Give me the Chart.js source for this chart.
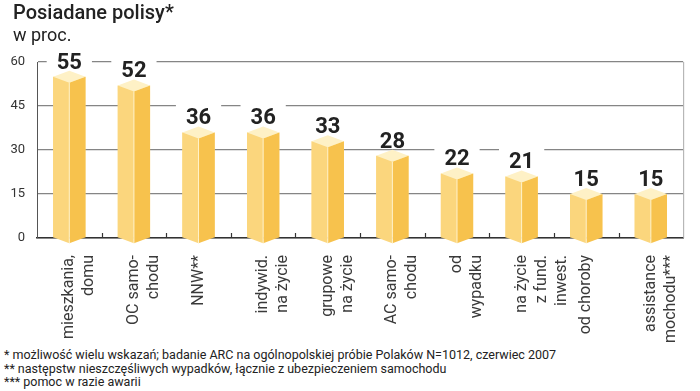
<!DOCTYPE html>
<html>
<head>
<meta charset="utf-8">
<script src="https://cdn.jsdelivr.net/npm/chart.js@4"></script>
<style>
  html, body { margin: 0; padding: 0; background: #fff; }
  #wrap { position: relative; width: 700px; height: 391px; overflow: hidden; font-family: Roboto, sans-serif; color: #222; }
  #title { position: absolute; left: 13px; top: 1px; font-size: 20px; font-weight: 500; line-height: 22px; }
  #sub { position: absolute; left: 13px; top: 25px; font-size: 18px; line-height: 20px; }
  #chart { position: absolute; left: 0; top: 0; }
  #notes { position: absolute; left: 4px; top: 348px; font-size: 12.5px; line-height: 13.5px; color: #222; white-space: nowrap; }
</style>
</head>
<body>
<div id="wrap">
  <canvas id="chart" width="700" height="343"></canvas>
  <div id="title">Posiadane polisy*</div>
  <div id="sub">w proc.</div>
  <div id="notes">
    <div>* możliwość wielu wskazań; badanie ARC na ogólnopolskiej próbie Polaków N=1012, czerwiec 2007</div>
    <div>** następstw nieszczęśliwych wypadków, łącznie z ubezpieczeniem samochodu</div>
    <div>*** pomoc w razie awarii</div>
  </div>
</div>
<script>
var categories = [['mieszkania,', 'domu'], ['OC samo-', 'chodu'], 'NNW**', ['indywid.', 'na życie'], ['grupowe', 'na życie'],
  ['AC samo-', 'chodu'], ['od', 'wypadku'], ['na życie', 'z fund.', 'inwest.'], 'od choroby', ['assistance', 'samochodu***']];
var values = [55, 52, 36, 36, 33, 28, 22, 21, 15, 15];
var yTicks = [0, 15, 30, 45, 60];

// draws the bars as little prisms, the value labels and the small ticks
var prisms = {
  id: 'prisms',
  afterDatasetsDraw: function (chart) {
    var ctx = chart.ctx;
    var area = chart.chartArea;
    var xs = chart.scales.x;
    var d = 6;
    ctx.save();

    ctx.strokeStyle = '#aaa';
    ctx.lineWidth = 1;
    ctx.beginPath();
    ctx.moveTo(area.right + 0.5, area.top);
    ctx.lineTo(area.right + 0.5, area.bottom);
    ctx.stroke();

    ctx.strokeStyle = '#333';
    ctx.lineWidth = 1.2;
    for (var t = 1; t < values.length; t++) {
      var tx = Math.round((xs.getPixelForTick(t - 1) + xs.getPixelForTick(t)) / 2) + 0.5;
      ctx.beginPath();
      ctx.moveTo(tx, area.bottom - 5);
      ctx.lineTo(tx, area.bottom);
      ctx.stroke();
    }

    function poly(pts, fill) {
      ctx.beginPath();
      ctx.moveTo(pts[0][0], pts[0][1]);
      for (var k = 1; k < pts.length; k++) ctx.lineTo(pts[k][0], pts[k][1]);
      ctx.closePath();
      ctx.fillStyle = fill;
      ctx.fill();
    }

    chart.getDatasetMeta(0).data.forEach(function (bar, i) {
      var p = bar.getProps(['x', 'y', 'base', 'width'], true);
      var x0 = p.x - p.width / 2, x1 = p.x + p.width / 2, x = p.x, y = p.y, b = p.base;
      poly([[x0, y], [x, y + d], [x, b + d], [x0, b]], '#fbd67d');
      poly([[x, y + d], [x1, y], [x1, b], [x, b + d]], '#f7c24d');
      poly([[x0, y], [x, y - d], [x1, y], [x, y + d]], '#fef1c6');
      ctx.strokeStyle = 'rgba(255,246,215,0.9)';
      ctx.lineWidth = 1;
      ctx.beginPath();
      ctx.moveTo(x, y + d);
      ctx.lineTo(x, b + d);
      ctx.stroke();

      ctx.font = 'bold 22px Roboto';
      var txt = String(values[i]);
      var tw = ctx.measureText(txt).width;
      ctx.fillStyle = '#fff';
      ctx.fillRect(x - tw / 2 - 10, y - d - 24, tw + 20, 22);
      ctx.fillStyle = '#222';
      ctx.textAlign = 'center';
      ctx.textBaseline = 'alphabetic';
      ctx.fillText(txt, x, y - 8);
    });
    ctx.restore();
  }
};

new Chart(document.getElementById('chart'), {
  type: 'bar',
  data: {
    labels: categories,
    datasets: [{
      data: values,
      backgroundColor: '#fbd67d',
      barPercentage: 0.5,
      categoryPercentage: 1
    }]
  },
  options: {
    responsive: false,
    devicePixelRatio: 1,
    animation: false,
    layout: { padding: { top: 62, right: 3, left: 0, bottom: 0 } },
    plugins: { legend: { display: false }, tooltip: { enabled: false } },
    scales: {
      x: {
        afterFit: function (s) { s.height = 105; },
        grid: { display: false },
        border: { display: true, color: '#333', width: 1.5 },
        ticks: {
          minRotation: 90,
          maxRotation: 90,
          autoSkip: false,
          padding: 9,
          color: '#3a3a3a',
          font: { family: 'Roboto', size: 16, lineHeight: 1.25 }
        }
      },
      y: {
        min: 0,
        max: 60,
        afterFit: function (s) { s.width = 37; },
        afterBuildTicks: function (s) { s.ticks = yTicks.map(function (v) { return { value: v }; }); },
        grid: { color: '#858585', lineWidth: 1.3, drawTicks: false },
        border: { display: true, color: '#555', width: 1 },
        ticks: {
          padding: 12,
          color: '#333',
          font: { family: 'Roboto', size: 13 }
        }
      }
    }
  },
  plugins: [prisms]
});
</script>
</body>
</html>
